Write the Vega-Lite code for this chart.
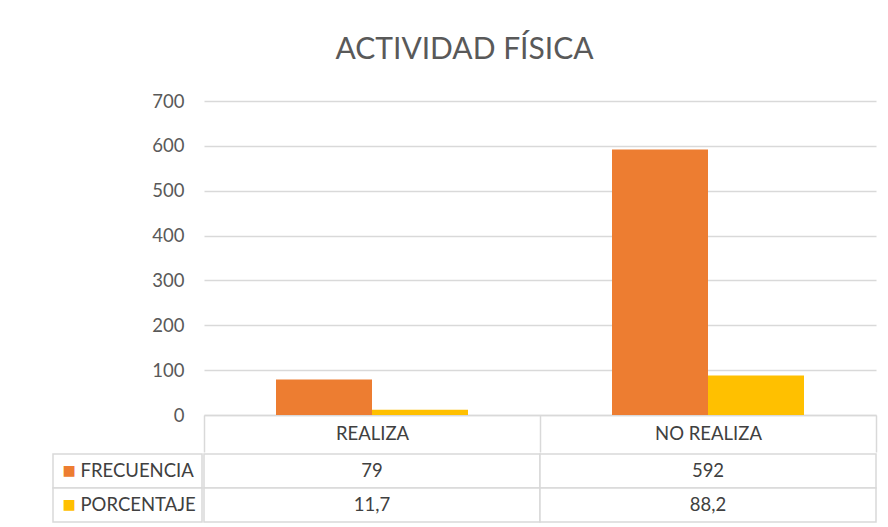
{
  "$schema": "https://vega.github.io/schema/vega-lite/v6.json",
  "background": "white",
  "padding": {"left": 52, "top": 35, "right": 3, "bottom": 3},
  "title": {"text": "ACTIVIDAD FÍSICA", "font": "Lato", "fontSize": 30, "fontWeight": "normal", "color": "#595959", "anchor": "middle", "offset": 27},
  "config": {"view": {"stroke": null}, "font": "Lato"},
  "spacing": 0,
  "vconcat": [
    {
      "spacing": 0,
      "hconcat": [
        {
          "width": 98,
          "height": 314,
          "data": {"values": [{"vacío": ""}]},
          "mark": {"type": "text", "text": ""}
        },
        {
          "width": 672,
          "height": 314,
          "data": {"values": [
            {"cat": "REALIZA", "serie": "FRECUENCIA", "valor": 79},
            {"cat": "REALIZA", "serie": "PORCENTAJE", "valor": 11.7},
            {"cat": "NO REALIZA", "serie": "FRECUENCIA", "valor": 592},
            {"cat": "NO REALIZA", "serie": "PORCENTAJE", "valor": 88.2}
          ]},
          "mark": {"type": "bar"},
          "encoding": {
            "x": {"field": "cat", "type": "nominal", "sort": ["REALIZA", "NO REALIZA"], "scale": {"paddingInner": 0, "paddingOuter": 0},
              "axis": {"title": null, "labelAngle": 0, "labelFont": "Lato", "labelFontSize": 18.5, "labelColor": "#404040", "labelBaseline": "middle", "labelPadding": -18.5, "tickBand": "extent", "tickSize": 37, "tickColor": "#d9d9d9", "tickWidth": 1.5, "domainColor": "#d9d9d9", "domainWidth": 1.5, "grid": false}},
            "xOffset": {"field": "serie", "type": "nominal", "sort": ["FRECUENCIA", "PORCENTAJE"], "scale": {"paddingInner": 0, "paddingOuter": 0.75}},
            "y": {"field": "valor", "type": "quantitative", "scale": {"domain": [0, 700]},
              "axis": {"values": [0, 100, 200, 300, 400, 500, 600, 700], "title": null, "ticks": false, "domain": false, "labelPadding": 20, "labelFont": "Lato", "labelFontSize": 18.5, "labelColor": "#595959", "gridColor": "#d9d9d9", "gridWidth": 1.3, "minExtent": 53, "maxExtent": 53}},
            "color": {"field": "serie", "type": "nominal", "scale": {"domain": ["FRECUENCIA", "PORCENTAJE"], "range": ["#ED7D31", "#FFC000"]}, "legend": null}
          }
        }
      ]
    },
    {
      "spacing": 0,
      "hconcat": [
        {
          "width": 149,
          "height": 68,
          "data": {"values": [
            {"serie": "FRECUENCIA"},
            {"serie": "PORCENTAJE"}
          ]},
          "encoding": {
            "y": {"field": "serie", "type": "nominal", "scale": {"domain": ["FRECUENCIA", "PORCENTAJE"], "paddingInner": 0, "paddingOuter": 0}, "axis": null}
          },
          "layer": [
            {"mark": {"type": "rect", "fill": "white", "stroke": "#d9d9d9", "strokeWidth": 1.5}},
            {"mark": {"type": "text", "text": "■", "font": "DejaVu Sans", "fontSize": 14, "align": "left", "dx": -65},
              "encoding": {"color": {"field": "serie", "type": "nominal", "scale": {"domain": ["FRECUENCIA", "PORCENTAJE"], "range": ["#ED7D31", "#FFC000"]}, "legend": null}}},
            {"mark": {"type": "text", "font": "Lato", "fontSize": 18.5, "align": "left", "dx": -47, "color": "#404040"},
              "encoding": {"text": {"field": "serie", "type": "nominal"}}}
          ]
        },
        {
          "width": 672,
          "height": 68,
          "data": {"values": [
            {"fila": "FRECUENCIA", "col": "REALIZA", "txt": "79"},
            {"fila": "FRECUENCIA", "col": "NO REALIZA", "txt": "592"},
            {"fila": "PORCENTAJE", "col": "REALIZA", "txt": "11,7"},
            {"fila": "PORCENTAJE", "col": "NO REALIZA", "txt": "88,2"}
          ]},
          "encoding": {
            "x": {"field": "col", "type": "nominal", "sort": ["REALIZA", "NO REALIZA"], "scale": {"paddingInner": 0, "paddingOuter": 0}, "axis": null},
            "y": {"field": "fila", "type": "nominal", "scale": {"domain": ["FRECUENCIA", "PORCENTAJE"], "paddingInner": 0, "paddingOuter": 0}, "axis": null}
          },
          "layer": [
            {"mark": {"type": "rect", "fill": "white", "stroke": "#d9d9d9", "strokeWidth": 1.5}},
            {"mark": {"type": "text", "font": "Lato", "fontSize": 18.5, "color": "#404040"},
              "encoding": {"text": {"field": "txt", "type": "nominal"}}}
          ]
        }
      ]
    }
  ]
}
